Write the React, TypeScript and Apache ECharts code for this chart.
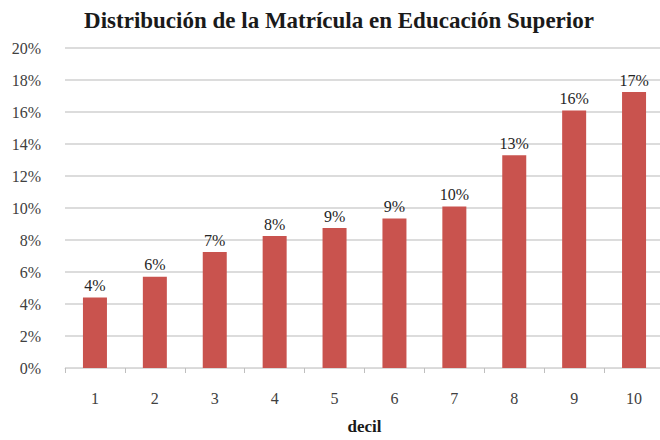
import React, { useEffect, useRef } from "react";
import * as echarts from "echarts";

const categories = ["1", "2", "3", "4", "5", "6", "7", "8", "9", "10"];
const values = [4.4, 5.7, 7.25, 8.25, 8.75, 9.35, 10.1, 13.3, 16.1, 17.25];
const titleText = "Distribución de la Matrícula en Educación Superior";
const xAxisName = "decil";

export default function App() {
  const ref = useRef<HTMLDivElement>(null);
  useEffect(() => {
    if (!ref.current) return;
    const chart = echarts.init(ref.current, null, { renderer: "svg" });
    const serif = "'Liberation Serif', 'Times New Roman', serif";
    chart.setOption({
      animation: false,
      backgroundColor: "#ffffff",
      title: {
        text: titleText,
        left: 334,
        textAlign: "center",
        top: 4,
        textStyle: { fontFamily: serif, fontWeight: "bold", fontSize: 23, color: "#1a1a1a" },
      },
      grid: { left: 65, width: 599, top: 48, height: 320, containLabel: false, outerBoundsMode: "none" },
      xAxis: {
        type: "category",
        data: categories,
        name: xAxisName,
        nameLocation: "middle",
        nameGap: 50,
        nameTextStyle: { fontFamily: serif, fontWeight: "bold", fontSize: 17, color: "#1a1a1a" },
        axisLine: { show: true, lineStyle: { color: "#d9d9d9" } },
        axisTick: { show: true, length: 5, lineStyle: { color: "#bfbfbf" } },
        axisLabel: { fontFamily: serif, fontSize: 16, color: "#404040", margin: 22 },
      },
      yAxis: {
        type: "value",
        min: 0,
        max: 20,
        interval: 2,
        axisLine: { show: false },
        axisTick: { show: false },
        axisLabel: {
          fontFamily: serif,
          fontSize: 16,
          color: "#404040",
          margin: 24,
          formatter: (v: number) => `${v}%`,
        },
        splitLine: { lineStyle: { color: "#d0d0d0", width: 1.5 } },
      },
      series: [
        {
          type: "bar",
          data: values,
          barWidth: 24,
          itemStyle: { color: "#C9534E" },
          label: {
            show: true,
            position: "top",
            distance: 4,
            fontFamily: serif,
            fontSize: 16,
            color: "#262626",
            formatter: (p: any) => `${Math.round(p.value)}%`,
          },
        },
      ],
    });
    return () => chart.dispose();
  }, []);
  return <div ref={ref} style={{ width: 660, height: 440, position: "absolute", left: 0, top: 0 }} />;
}
